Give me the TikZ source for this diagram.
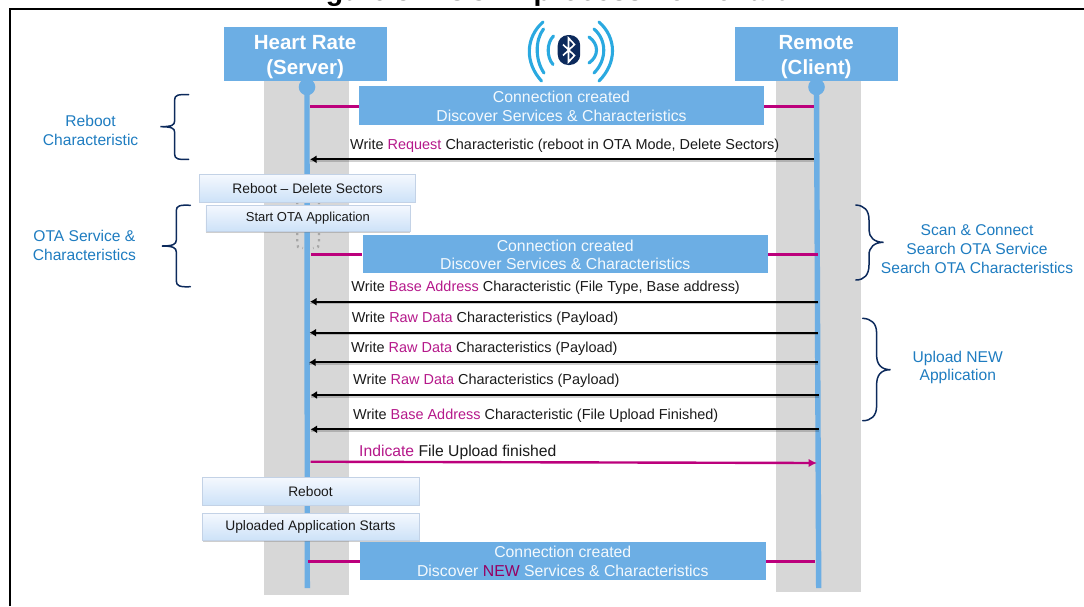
\documentclass[tikz,border=0pt]{standalone}
\usepackage{fontspec}
\setmainfont{Liberation Sans}
\usetikzlibrary{arrows.meta,shadows}
\definecolor{hdr}{HTML}{6CAEE4}
\definecolor{band}{HTML}{D7D7D7}
\definecolor{pk}{HTML}{BC007C}
\definecolor{pktxt}{HTML}{B5188A}
\definecolor{lbl}{HTML}{1E7CC0}
\definecolor{navy}{HTML}{0C2A5C}
\definecolor{wave}{HTML}{2AA9E0}
\definecolor{boxtop}{HTML}{F4F8FE}
\definecolor{boxbot}{HTML}{CDE2F8}
\definecolor{boxln}{HTML}{C3D2E6}
\definecolor{txt}{HTML}{1A1A1A}
\newcommand{\pkw}[1]{\textcolor{pktxt}{#1}}
\newcommand{\sz}[2]{\fontsize{#1}{#2}\selectfont}
\tikzset{
  header/.style={fill=hdr,inner sep=0pt,align=center,text=white,font=\bfseries\sz{20.5}{25}},
  connbar/.style={fill=hdr,inner sep=0pt,align=center,text=white!92!hdr,font=\sz{15.8}{18.7}},
  statebox/.style={top color=boxtop,bottom color=boxbot,draw=boxln,line width=.8pt,inner sep=0pt,text=txt,
    drop shadow={shadow xshift=.5pt,shadow yshift=-1.5pt,fill=black!55,opacity=.35}},
  msg/.style={anchor=base west,inner sep=0pt,text=txt,font=\sz{14.45}{17}},
  side/.style={inner sep=0pt,align=center,text=lbl,font=\sz{15.6}{18.9}},
  lifeline/.style={draw=hdr,line width=5.4pt},
  pinkbar/.style={draw=pk,line width=3pt},
  blackmsg/.style={draw=black,line width=2pt,-{Latex[length=6.5pt,width=8pt]},
    preaction={draw=black,-,line width=1.6pt,opacity=.18,transform canvas={yshift=-1.8pt}}},
  pinkmsg/.style={draw=pk,line width=2.4pt,-{Latex[length=8.5pt,width=8.5pt]}},
  bracex/.style={draw=navy,line width=1.5pt,line cap=round},
  wavearc/.style={draw=wave,line width=3.1pt,line cap=round},
}
\begin{document}
\begin{tikzpicture}[x=1pt,y=-1pt]
\useasboundingbox (0,0) rectangle (1084,606);
\begin{scope}
\clip (0,0) rectangle (1084,606);
\node[anchor=base,inner sep=0pt,text=black,font=\bfseries\sz{28.5}{34}] (title) at (543,0) {Figure 8. FUOTA process flow chart};
\draw[black,line width=2pt] (10,606) -- (10,9) -- (1084,9);

% bands
\fill[band] (264,80) rectangle (349,595);
\fill[band] (776,80) rectangle (861,592);

% lifelines
\node[circle,fill=hdr,minimum size=16.6pt,inner sep=0pt] (srvdot) at (307,87) {};
\node[circle,fill=hdr,minimum size=16.6pt,inner sep=0pt] (clidot) at (816.5,87) {};
\coordinate (srvend) at (307.3,588);
\coordinate (cliend) at (818.7,588);
\draw[lifeline] (srvdot.center) -- (srvend);
\draw[lifeline] (clidot.center) -- (cliend);

% dotted trace behind the state boxes
\draw[gray!70,line width=2.2pt,dash pattern=on 2.2pt off 4pt] (297.3,202) -- (297.3,243) -- (298,247) -- (303,248);
\draw[gray!70,line width=2.2pt,dash pattern=on 2.2pt off 4pt] (319,202) -- (319,243) -- (318,247) -- (313,248);

% headers
\node[header,minimum width=163.2pt,minimum height=53.2pt] (server) at (305.1,53.9) {\rule{0pt}{19.6pt}Heart Rate\\(Server)};
\node[header,minimum width=163pt,minimum height=53.2pt] (client) at (816.2,53.9) {\rule{0pt}{19.6pt}Remote\\(Client)};

% connection bars
\node[connbar,minimum width=405pt,minimum height=38.7pt] (bar1) at (561.5,105.6) {\rule{0pt}{13pt}Connection created\\Discover Services \& Characteristics};
\node[connbar,minimum width=405.4pt,minimum height=38.3pt] (bar2) at (565.3,254.2) {\rule{0pt}{13pt}Connection created\\Discover Services \& Characteristics};
\node[connbar,minimum width=405.5pt,minimum height=38.3pt] (bar3) at (562.8,560.9) {\rule{0pt}{13pt}Connection created\\Discover \textcolor{pk!80!black}{NEW} Services \& Characteristics};

\coordinate (s1) at (310,106); \coordinate (c1) at (814,106);
\coordinate (s2) at (311,254); \coordinate (c2) at (817.6,254);
\coordinate (s3) at (308,561); \coordinate (c3) at (815,561);
\draw[pinkbar] (s1) -- (bar1.west|-s1);
\draw[pinkbar] (bar1.east|-c1) -- (c1);
\draw[pinkbar] (s2) -- (bar2.west|-s2);
\draw[pinkbar] (bar2.east|-c2) -- (c2);
\draw[pinkbar] (s3) -- (bar3.west|-s3);
\draw[pinkbar] (bar3.east|-c3) -- (c3);

% messages
\coordinate (a1c) at (814,159.3); \coordinate (a1s) at (310,159.3);
\coordinate (a2c) at (818,301.7); \coordinate (a2s) at (310,301.7);
\coordinate (a3c) at (818,332.7); \coordinate (a3s) at (309.5,332.7);
\coordinate (a4c) at (817.5,362.3); \coordinate (a4s) at (309,362.3);
\coordinate (a5c) at (819,395); \coordinate (a5s) at (310.5,395);
\coordinate (a6c) at (819,429.3); \coordinate (a6s) at (310.5,429.3);
\coordinate (a7s) at (310.5,461.7); \coordinate (a7c) at (817,463);
\draw[blackmsg] (a1c) -- (a1s);
\draw[blackmsg] (a2c) -- (a2s);
\draw[blackmsg] (a3c) -- (a3s);
\draw[blackmsg] (a4c) -- (a4s);
\draw[blackmsg] (a5c) -- (a5s);
\draw[blackmsg] (a6c) -- (a6s);
\draw[pinkmsg] (a7s) -- (a7c);

\node[msg] (t1) at (350,149) {Write \pkw{Request} Characteristic (reboot in OTA Mode, Delete Sectors)};
\node[msg] (t2) at (351.2,291.7) {Write \pkw{Base Address} Characteristic (File Type, Base address)};
\node[msg] (t3) at (351.6,322) {Write \pkw{Raw Data} Characteristics (Payload)};
\node[msg] (t4) at (351,352) {Write \pkw{Raw Data} Characteristics (Payload)};
\node[msg] (t5) at (353,384.3) {Write \pkw{Raw Data} Characteristics (Payload)};
\node[msg] (t6) at (353,419) {Write \pkw{Base Address} Characteristic (File Upload Finished)};
\node[msg,font=\sz{15.7}{18}] (t7) at (359,456) {\pkw{Indicate} File Upload finished};

% state boxes
\node[statebox,minimum width=216pt,minimum height=27.3pt,font=\sz{13.8}{16}] (st1) at (307.6,188.3) {Reboot -- Delete Sectors};
\node[statebox,minimum width=204pt,minimum height=26pt,font=\sz{13}{15}] (st2) at (307.9,218) {Start OTA Application};
\node[statebox,minimum width=217pt,minimum height=27.3pt,font=\sz{13.8}{16}] (st3) at (310.5,491.3) {Reboot};
\node[statebox,minimum width=217pt,minimum height=26.7pt,font=\sz{13.8}{16}] (st4) at (310.5,526.7) {Uploaded Application Starts};

% side labels
\node[side] (l1) at (90.6,130.5) {Reboot\\Characteristic};
\node[side] (l2) at (84.4,245) {OTA Service \&\\Characteristics};
\node[side] (l3) at (977,249) {Scan \& Connect\\Search OTA Service\\Search OTA Characteristics};
\node[side] (l4) at (957.8,367.5) {Upload NEW\\Application};

% braces
\draw[bracex] (188.7,94.7) .. controls (178,94.2) and (174.6,95) .. (174.6,100) -- (174.6,121)
  .. controls (174.6,125) and (172,126.7) .. (160.5,126.7)
  .. controls (172,126.7) and (174.6,128.5) .. (174.6,132) -- (174.6,154)
  .. controls (174.6,159) and (178,159.8) .. (188.7,159.3);
\draw[bracex] (190.4,205.3) .. controls (180,204.8) and (176.3,205.6) .. (176.3,210.6) -- (176.3,240)
  .. controls (176.3,244) and (173.5,246) .. (162,246)
  .. controls (173.5,246) and (176.3,248) .. (176.3,252) -- (176.3,281)
  .. controls (176.3,286) and (180,287.2) .. (190.4,286.7);
\draw[bracex] (855.8,205) .. controls (864,205.5) and (869,210) .. (869,220) -- (869,230)
  .. controls (869,237) and (874,242.3) .. (883.5,242.3)
  .. controls (874,242.3) and (869,247.5) .. (869,255) -- (869,265)
  .. controls (869,275) and (864,280) .. (855.8,280);
\draw[bracex] (862.7,318.3) .. controls (871,318.8) and (876.6,323) .. (876.6,333) -- (876.6,355)
  .. controls (876.6,364) and (881,369.7) .. (890.5,369.7)
  .. controls (881,369.7) and (876.6,375) .. (876.6,385) -- (876.6,406)
  .. controls (876.6,416) and (871,420.7) .. (862.7,420.7);

% bluetooth icon
\fill[navy,rounded corners=10.5pt] (557.7,35) rectangle (580.2,65);
\draw[white,line width=1.6pt,line join=miter] (563,44.5) -- (574.5,55.5) -- (568.5,62) -- (568.5,38) -- (574.5,44.5) -- (563,55.5);
\draw[wavearc] (553.5,36) .. controls (546.5,43) and (546.5,57) .. (553,64.5);
\draw[wavearc] (543.5,29) .. controls (535,40) and (535,60) .. (544,73);
\draw[wavearc] (543,22) .. controls (525,38) and (525,63) .. (541.5,81);
\draw[wavearc] (589,37) .. controls (599,44) and (599,56) .. (589,63);
\draw[wavearc] (594,29) .. controls (607,40) and (607,60) .. (594,73);
\draw[wavearc] (599,22) .. controls (617,38) and (617,63) .. (599,81);
\end{scope}
\end{tikzpicture}
\end{document}
